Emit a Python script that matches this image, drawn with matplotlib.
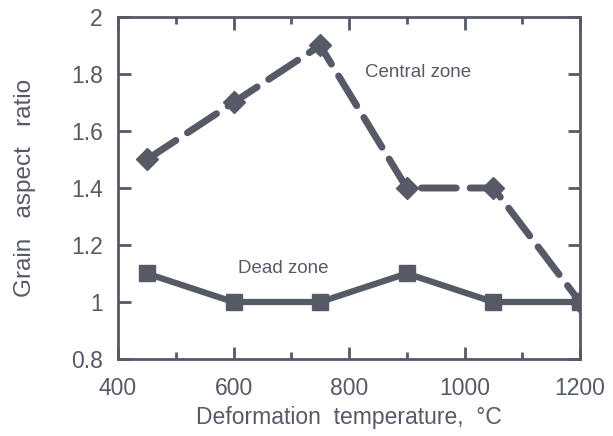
import numpy as np
import matplotlib
matplotlib.use("Agg")
import matplotlib.pyplot as plt
from matplotlib.ticker import MultipleLocator

plt.rcParams.update({
    "font.family": ["Liberation Sans", "DejaVu Sans"],
    "font.size": 12,
})

INK = "#565a66"

temps = [450, 600, 750, 900, 1050, 1200]
central_zone = [1.5, 1.7, 1.9, 1.4, 1.4, 1.0]
dead_zone = [1.1, 1.0, 1.0, 1.1, 1.0, 1.0]

fig = plt.figure(figsize=(6.13, 4.36), dpi=100)
ax = fig.add_axes([118 / 613, 1 - 359 / 436, (580 - 118) / 613, (359 - 17) / 436])

ax.plot(temps, central_zone, color=INK, lw=5, ls=(0, (5, 2)),
        marker="D", ms=11, mfc=INK, mec=INK, dash_capstyle="round")
ax.plot(temps, dead_zone, color=INK, lw=4.5, ls="-",
        marker="s", ms=11, mfc=INK, mec=INK)

ax.text(919, 1.807, "Central zone", color=INK, fontsize=13.5, ha="center", va="center")
ax.text(686, 1.119, "Dead zone", color=INK, fontsize=13.5, ha="center", va="center")

ax.set_xlim(400, 1200)
ax.set_ylim(0.8, 2.0)
ax.xaxis.set_major_locator(MultipleLocator(200))
ax.xaxis.set_minor_locator(MultipleLocator(100))
ax.set_yticks([0.8, 1.0, 1.2, 1.4, 1.6, 1.8, 2.0], ["0.8", "1", "1.2", "1.4", "1.6", "1.8", "2"])

ax.tick_params(which="both", direction="in", top=True, right=True, color=INK,
               labelcolor=INK, labelsize=16.5, width=2)
ax.tick_params(which="major", length=9)
ax.tick_params(axis="x", which="major", pad=13)
ax.tick_params(axis="y", which="major", pad=11)
ax.tick_params(which="minor", length=5)
for s in ax.spines.values():
    s.set_color(INK)
    s.set_linewidth(2)

ax.set_xlabel("Deformation  temperature,  °C", color=INK, fontsize=16.5, labelpad=4)
ax.set_ylabel("Grain   aspect   ratio", color=INK, fontsize=17.5, labelpad=25)

fig.savefig("out.png", dpi=100)
